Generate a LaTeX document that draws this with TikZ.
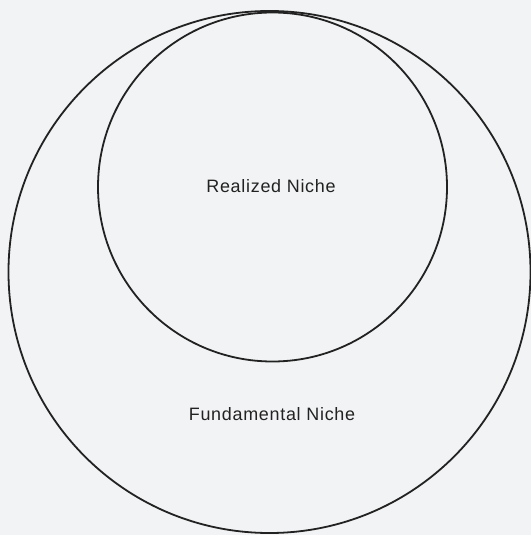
\documentclass[tikz,border=0pt]{standalone}
\usepackage{fontspec}
\setmainfont{Liberation Sans}[LetterSpace=4]
\definecolor{bg}{HTML}{F2F3F4}
\definecolor{ink}{HTML}{222222}
\begin{document}
\begin{tikzpicture}[x=1bp,y=-1bp,
  niche/.style={circle, draw=ink, line width=1.8bp, inner sep=0pt},
  label/.style={text=ink, font=\fontsize{18}{21}\selectfont, inner sep=0pt}]
\fill[bg] (0,0) rectangle (531,535);
\useasboundingbox (0,0) rectangle (531,535);
\node[niche, minimum size=522bp] (fund) at (269.5,272) {};
\node[niche, minimum size=349bp] (real) at (272.5,187) {};
\node[label] (reallab) at (271,186) {Realized Niche};
\node[label] (fundlab) at (272,414) {Fundamental Niche};
\end{tikzpicture}
\end{document}
